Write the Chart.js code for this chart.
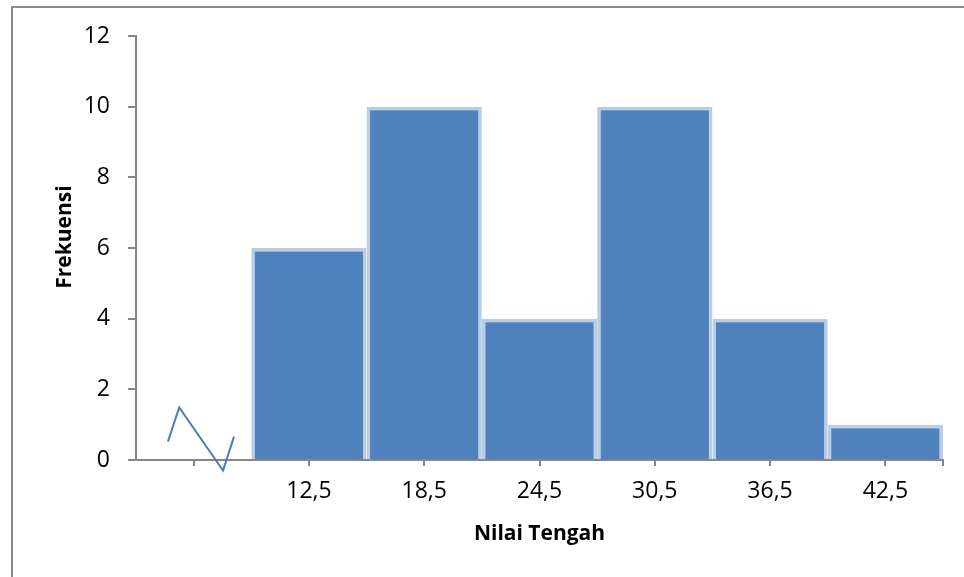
<!DOCTYPE html>
<html>
<head>
<meta charset="utf-8">
<script src="https://cdn.jsdelivr.net/npm/chart.js@4/dist/chart.umd.min.js"></script>
<style>
  html, body { margin: 0; padding: 0; background: #fff; overflow: hidden; }
  #bingkai {
    position: absolute; left: 11px; top: 6px; width: 1000px; height: 620px;
    border-left: 2px solid #8c8c8c; border-top: 2px solid #8c8c8c;
  }
  #wadah { position: absolute; left: 0; top: 0; width: 964px; height: 577px; }
</style>
</head>
<body>
<div id="bingkai"></div>
<div id="wadah"><canvas id="grafik" width="964" height="577"></canvas></div>
<script>
// data histogram
const nilaiTengah = [12.5, 18.5, 24.5, 30.5, 36.5, 42.5];
const frekuensi = [6, 10, 4, 10, 4, 1];

// posisi tick sumbu x dan labelnya
const posisiTickX = [6.5, 12.5, 18.5, 24.5, 30.5, 36.5, 42.5, 45.5];
const labelTickX = ["", "12,5", "18,5", "24,5", "30,5", "36,5", "42,5", ""];

// garis patah (tanda sumbu terpotong)
const patahX = [5.16, 5.75, 8.03, 8.6];
const patahY = [0.52, 1.49, -0.3, 0.66];

const warnaSumbu = "#868686";
const fontTick = { family: "'Open Sans', sans-serif", size: 23 };
const fontJudul = { family: "'Open Sans', sans-serif", size: 21, weight: "bold" };

const ctx = document.getElementById("grafik").getContext("2d");
new Chart(ctx, {
  type: "bar",
  data: {
    datasets: [
      {
        type: "bar",
        data: nilaiTengah.map((x, i) => ({ x: x, y: frekuensi[i] })),
        backgroundColor: "#4F81BD",
        borderColor: "#B9CDE5",
        borderWidth: 3.5,
        barPercentage: 1,
        // tick ujung (45,5) bikin jarak minimum jadi setengah lebar kelas
        categoryPercentage: 2,
        order: 2
      },
      {
        type: "line",
        data: patahX.map((x, i) => ({ x: x, y: patahY[i] })),
        borderColor: "#4A7EBB",
        borderWidth: 2,
        pointRadius: 0,
        tension: 0,
        fill: false,
        clip: false,
        order: 1
      }
    ]
  },
  options: {
    responsive: false,
    animation: false,
    layout: { padding: { left: 0, top: 36, right: 21, bottom: 0 } },
    plugins: {
      legend: { display: false },
      tooltip: { enabled: false }
    },
    scales: {
      x: {
        type: "linear",
        offset: false,
        min: 3.5,
        max: 45.5,
        afterBuildTicks: scale => {
          scale.ticks = posisiTickX.map(v => ({ value: v }));
        },
        afterFit: scale => { scale.height = 117; },
        border: { color: warnaSumbu, width: 2 },
        grid: {
          offset: false,
          drawOnChartArea: false,
          drawTicks: true,
          tickLength: 6,
          color: warnaSumbu,
          lineWidth: 2
        },
        ticks: {
          autoSkip: false,
          maxRotation: 0,
          padding: 12,
          color: "#000",
          font: fontTick,
          callback: (v, i) => labelTickX[i]
        },
        title: {
          display: true,
          text: "Nilai Tengah",
          color: "#000",
          font: fontJudul,
          padding: { top: 0, bottom: 30 }
        }
      },
      y: {
        min: 0,
        max: 12,
        afterFit: scale => { scale.width = 136; },
        border: { color: warnaSumbu, width: 2 },
        grid: {
          drawOnChartArea: false,
          drawTicks: true,
          tickLength: 8,
          color: warnaSumbu,
          lineWidth: 2
        },
        ticks: {
          stepSize: 2,
          padding: 18,
          color: "#000",
          font: fontTick
        },
        title: {
          display: true,
          text: "    Frekuensi",
          color: "#000",
          font: fontJudul,
          padding: { top: 52, bottom: 0 }
        }
      }
    }
  }
});
</script>
</body>
</html>
